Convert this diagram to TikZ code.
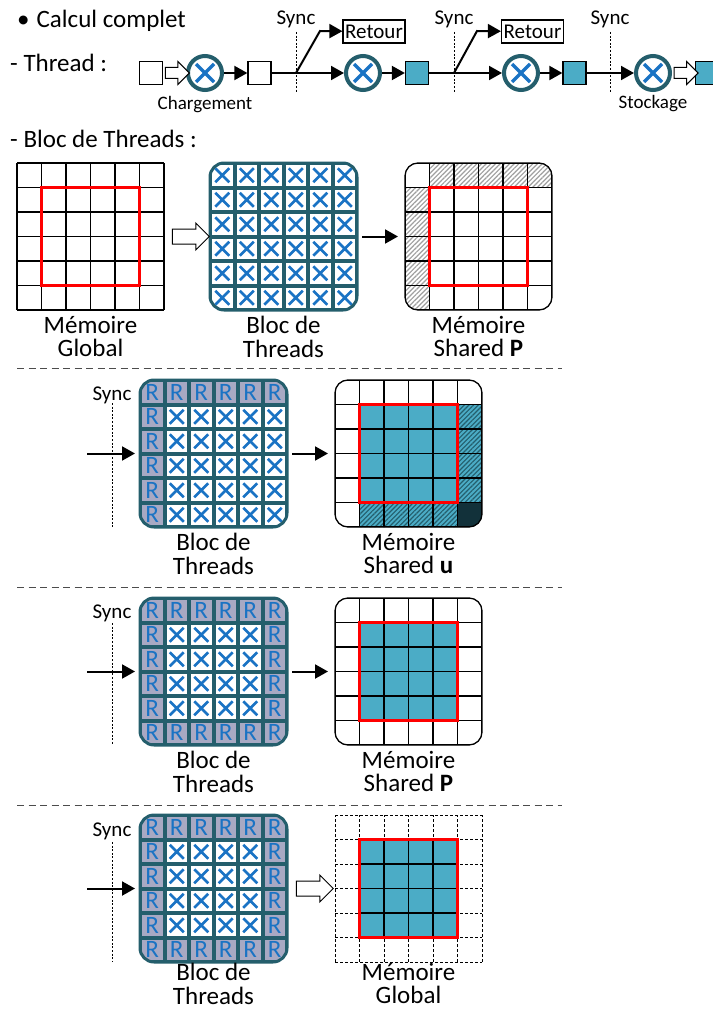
\documentclass[tikz,border=0pt]{standalone}
\usepackage{fontspec}
\setmainfont{Carlito}
\usetikzlibrary{shapes,arrows.meta,positioning,calc,patterns.meta}

\definecolor{tealdark}{HTML}{245E6C}
\definecolor{tealfill}{HTML}{4BACC6}
\definecolor{xblue}{HTML}{1A73C4}
\definecolor{rgray}{HTML}{A8A9C3}
\definecolor{darkcell}{HTML}{12313A}

\begin{document}
\begin{tikzpicture}[x=1pt, y=-1pt, node distance=1cm,
    txt/.style={inner sep=0pt, font=\fontsize{25}{22}\selectfont},
    small/.style={inner sep=0pt, font=\fontsize{21}{24}\selectfont},
    note/.style={inner sep=0pt, font=\fontsize{19}{22}\selectfont},
    sq/.style={rectangle, draw, line width=1.3pt, minimum size=23pt, inner sep=0pt},
    opnode/.style={circle, draw=tealdark, line width=4pt, fill=white, minimum size=34pt, inner sep=0pt,
        path picture={\draw[xblue, line width=3.4pt] (path picture bounding box.center) ++(-9,-9) -- ++(18,18)
            (path picture bounding box.center) ++(-9,9) -- ++(18,-18);}},
    arr/.style={-{Triangle[length=13pt,width=14pt]}, line width=2pt},
    hollow/.style={single arrow, draw, line width=1pt, fill=white, inner xsep=0pt, single arrow head indent=0pt},
    sync/.style={dash pattern=on 2pt off 1.6pt, line width=0.9pt},
    sepline/.style={dash pattern=on 7pt off 4.5pt, line width=1pt, black!70},
    gridbox/.style={rectangle, minimum size=147pt, inner sep=0pt, outer sep=0pt},
    gline/.style={line width=1.3pt},
    redbox/.style={draw=red, line width=3pt},
    xcell/.style={rectangle, fill=white, minimum size=20.5pt, inner sep=0pt,
        path picture={\draw[xblue, line width=2.6pt] (path picture bounding box.center) ++(-7,-7) -- ++(14,14)
            (path picture bounding box.center) ++(-7,7) -- ++(14,-14);}},
    rcell/.style={rectangle, fill=rgray, minimum size=20.5pt, inner sep=0pt, text=xblue,
        font=\fontsize{25}{25}\selectfont},
    hatchg/.style={pattern={Lines[angle=45,distance=3.3pt,line width=1.2pt]}, pattern color=gray!75},
    hatcht/.style={preaction={fill=tealfill}, pattern={Lines[angle=45,distance=3.3pt,line width=1.1pt]}, pattern color=tealdark},
    caption/.style={inner sep=0pt, font=\fontsize{25}{23.5}\selectfont, align=center, below=6pt of #1},
    lastcaption/.style={inner sep=0pt, font=\fontsize{25}{23.5}\selectfont, align=center, below=1pt of #1}
]
\path[use as bounding box, fill=white] (0,0) rectangle (712,1014);

% Thread
\node (titre) [txt, anchor=base west] at (17,28) {\textbullet\hspace{7pt}Calcul complet};
\node (thread) [txt, anchor=base west] at (10,72) {- Thread :};
\node (sq0) [sq] at (151,73) {};
\node (c1) [opnode] at (205,73) {};
\node (sq1) [sq] at (259.5,73) {};
\node (c2) [opnode] at (363,73) {};
\node (sq2) [sq, fill=tealfill] at (417,73) {};
\node (c3) [opnode] at (521,73) {};
\node (sq3) [sq, fill=tealfill] at (574.5,73) {};
\node (c4) [opnode] at (653,73) {};
\node (sq4) [sq, fill=tealfill] at (707,73) {};
\node (ret1) [small, draw, line width=1.2pt, minimum width=62pt, minimum height=23pt] at (374,31.5) {Retour};
\node (ret2) [small, draw, line width=1.2pt, minimum width=62pt, minimum height=23pt] at (532.5,31.5) {Retour};
\node (charg) [note, anchor=base] at (205,110) {Chargement};
\node (stock) [note, anchor=base] at (653,109) {Stockage};
\node (sy1) [small, anchor=base] at (296,25) {Sync};
\node (sy2) [small, anchor=base] at (454,25) {Sync};
\node (sy3) [small, anchor=base] at (610,25) {Sync};
\draw[sync] (296,32) -- (296,92);
\draw[sync] (454,32) -- (454,92);
\draw[sync] (610,32) -- (610,92);
\coordinate (br1) at (296,73);
\coordinate (br2) at (454,73);

\path (sq0) -- node[hollow, minimum height=24pt, inner ysep=5pt, single arrow head extend=6pt] (ha0) {} (c1);
\draw[arr] (c1) -- (sq1);
\draw[arr] (sq1) -- (c2);
\draw[arr] (br1) -- (320,31) -- (ret1);
\draw[arr] (c2) -- (sq2);
\draw[arr] (sq2) -- (c3);
\draw[arr] (br2) -- (477,31) -- (ret2);
\draw[arr] (c3) -- (sq3);
\draw[arr] (sq3) -- (c4);
\path (c4) -- node[hollow, minimum height=24pt, inner ysep=5pt, single arrow head extend=6pt] (ha5) {} (sq4);

% Bloc de Threads : chargement
\node (blocT) [txt, anchor=base west] at (10,147) {- Bloc de Threads :};
\node (memG) [gridbox, anchor=north west] at (17,163) {};
\draw[gline, shift={(memG.north west)}] (0,0) grid[step=24.5pt] (147,147);
\draw[redbox] ($(memG.north west)+(24.5,24.5)$) rectangle ($(memG.south east)+(-24.5,-24.5)$);
\node (lG) [caption=memG] {Mémoire\\Global};

\node (bloc1) [gridbox, right=46pt of memG] {};
\begin{scope}
  \clip[rounded corners=14pt] (bloc1.north west) rectangle (bloc1.south east);
  \fill[tealdark] (bloc1.north west) rectangle (bloc1.south east);
  \foreach \i in {0,...,5} \foreach \j in {0,...,5}
    \node (b1-\i-\j) [xcell] at ($(bloc1.north west)+(\i*24.5+12.25,\j*24.5+12.25)$) {};
\end{scope}
\draw[tealdark, line width=3pt, rounded corners=14pt] (bloc1.north west) rectangle (bloc1.south east);
\node (lb1) [caption=bloc1] {Bloc de\\Threads};
\path (memG) -- node[hollow, minimum height=37pt, inner ysep=7pt, single arrow head extend=6pt] (ha1) {} (bloc1);

\node (memP1) [gridbox, right=48pt of bloc1] {};
\begin{scope}
  \clip[rounded corners=13pt] (memP1.north west) rectangle (memP1.south east);
  \foreach \k in {1,...,5} {
    \path[hatchg] ($(memP1.north west)+(\k*24.5,0)$) rectangle ++(24.5,24.5);
    \path[hatchg] ($(memP1.north west)+(0,\k*24.5)$) rectangle ++(24.5,24.5);
  }
  \draw[gline, shift={(memP1.north west)}] (0,0) grid[step=24.5pt] (147,147);
\end{scope}
\draw[gline, rounded corners=13pt] (memP1.north west) rectangle (memP1.south east);
\draw[redbox] ($(memP1.north west)+(24.5,24.5)$) rectangle ($(memP1.south east)+(-24.5,-24.5)$);
\node (lP1) [caption=memP1] {Mémoire\\Shared \textbf{P}};
\draw[arr, shorten <=5pt, shorten >=7pt] (bloc1) -- (memP1);

\draw[sepline] (17,368) -- (562,368);

% calcul de u
\node (bloc2) [gridbox, anchor=north west] at (140,380) {};
\begin{scope}
  \clip[rounded corners=14pt] (bloc2.north west) rectangle (bloc2.south east);
  \fill[tealdark] (bloc2.north west) rectangle (bloc2.south east);
  \foreach \i in {0,...,5} \foreach \j in {0,...,5}
    \node (b2-\i-\j) [xcell] at ($(bloc2.north west)+(\i*24.5+12.25,\j*24.5+12.25)$) {};
  \foreach \k in {0,...,5} {
    \node (r2t-\k) [rcell] at ($(bloc2.north west)+(\k*24.5+12.25,12.25)$) {R};
    \node (r2l-\k) [rcell] at ($(bloc2.north west)+(12.25,\k*24.5+12.25)$) {R};
  }
\end{scope}
\draw[tealdark, line width=3pt, rounded corners=14pt] (bloc2.north west) rectangle (bloc2.south east);
\node (lb2) [caption=bloc2] {Bloc de\\Threads};
\node (sy4) [small, anchor=base] at (112,400) {Sync};
\draw[sync] (112,403) -- (112,527);
\coordinate (in2) at ($(bloc2.west)+(-53,0)$);
\draw[arr, shorten >=5pt] (in2) -- (bloc2);

\node (memU) [gridbox, right=48pt of bloc2] {};
\begin{scope}
  \clip[rounded corners=13pt] (memU.north west) rectangle (memU.south east);
  \fill[tealfill] ($(memU.north west)+(24.5,24.5)$) rectangle ++(98,98);
  \foreach \k in {1,...,4} {
    \path[hatcht] ($(memU.north west)+(122.5,\k*24.5)$) rectangle ++(24.5,24.5);
    \path[hatcht] ($(memU.north west)+(\k*24.5,122.5)$) rectangle ++(24.5,24.5);
  }
  \fill[darkcell] ($(memU.north west)+(122.5,122.5)$) rectangle ++(24.5,24.5);
  \draw[gline, shift={(memU.north west)}] (0,0) grid[step=24.5pt] (147,147);
\end{scope}
\draw[gline, rounded corners=13pt] (memU.north west) rectangle (memU.south east);
\draw[redbox] ($(memU.north west)+(24.5,24.5)$) rectangle ($(memU.south east)+(-24.5,-24.5)$);
\node (lU) [caption=memU] {Mémoire\\Shared \textbf{u}};
\draw[arr, shorten <=5pt, shorten >=7pt] (bloc2) -- (memU);

\draw[sepline] (17,587) -- (562,587);

% calcul de P
\node (bloc3) [gridbox, anchor=north west] at (140,598) {};
\begin{scope}
  \clip[rounded corners=14pt] (bloc3.north west) rectangle (bloc3.south east);
  \fill[tealdark] (bloc3.north west) rectangle (bloc3.south east);
  \foreach \i in {0,...,5} \foreach \j in {0,...,5}
    \node (b3-\i-\j) [xcell] at ($(bloc3.north west)+(\i*24.5+12.25,\j*24.5+12.25)$) {};
  \foreach \k in {0,...,5} {
    \node (r3t-\k) [rcell] at ($(bloc3.north west)+(\k*24.5+12.25,12.25)$) {R};
    \node (r3l-\k) [rcell] at ($(bloc3.north west)+(12.25,\k*24.5+12.25)$) {R};
    \node (r3b-\k) [rcell] at ($(bloc3.north west)+(\k*24.5+12.25,134.75)$) {R};
    \node (r3r-\k) [rcell] at ($(bloc3.north west)+(134.75,\k*24.5+12.25)$) {R};
  }
\end{scope}
\draw[tealdark, line width=3pt, rounded corners=14pt] (bloc3.north west) rectangle (bloc3.south east);
\node (lb3) [caption=bloc3] {Bloc de\\Threads};
\node (sy5) [small, anchor=base] at (112,618) {Sync};
\draw[sync] (112,623) -- (112,745);
\coordinate (in3) at ($(bloc3.west)+(-53,0)$);
\draw[arr, shorten >=5pt] (in3) -- (bloc3);

\node (memP2) [gridbox, right=48pt of bloc3] {};
\begin{scope}
  \clip[rounded corners=13pt] (memP2.north west) rectangle (memP2.south east);
  \fill[tealfill] ($(memP2.north west)+(24.5,24.5)$) rectangle ++(98,98);
  \draw[gline, shift={(memP2.north west)}] (0,0) grid[step=24.5pt] (147,147);
\end{scope}
\draw[gline, rounded corners=13pt] (memP2.north west) rectangle (memP2.south east);
\draw[redbox] ($(memP2.north west)+(24.5,24.5)$) rectangle ($(memP2.south east)+(-24.5,-24.5)$);
\node (lP2) [caption=memP2] {Mémoire\\Shared \textbf{P}};
\draw[arr, shorten <=5pt, shorten >=7pt] (bloc3) -- (memP2);

\draw[sepline] (17,805) -- (562,805);

% stockage
\node (bloc4) [gridbox, anchor=north west] at (140,815) {};
\begin{scope}
  \clip[rounded corners=14pt] (bloc4.north west) rectangle (bloc4.south east);
  \fill[tealdark] (bloc4.north west) rectangle (bloc4.south east);
  \foreach \i in {0,...,5} \foreach \j in {0,...,5}
    \node (b4-\i-\j) [xcell] at ($(bloc4.north west)+(\i*24.5+12.25,\j*24.5+12.25)$) {};
  \foreach \k in {0,...,5} {
    \node (r4t-\k) [rcell] at ($(bloc4.north west)+(\k*24.5+12.25,12.25)$) {R};
    \node (r4l-\k) [rcell] at ($(bloc4.north west)+(12.25,\k*24.5+12.25)$) {R};
    \node (r4b-\k) [rcell] at ($(bloc4.north west)+(\k*24.5+12.25,134.75)$) {R};
    \node (r4r-\k) [rcell] at ($(bloc4.north west)+(134.75,\k*24.5+12.25)$) {R};
  }
\end{scope}
\draw[tealdark, line width=3pt, rounded corners=14pt] (bloc4.north west) rectangle (bloc4.south east);
\node (lb4) [lastcaption=bloc4] {Bloc de\\Threads};
\node (sy6) [small, anchor=base] at (112,836) {Sync};
\draw[sync] (112,842) -- (112,962);
\coordinate (in4) at ($(bloc4.west)+(-53,0)$);
\draw[arr, shorten >=5pt] (in4) -- (bloc4);

\node (memG2) [gridbox, right=48pt of bloc4] {};
\draw[dash pattern=on 3pt off 2pt, line width=0.9pt, shift={(memG2.north west)}] (0,0) grid[step=24.5pt] (147,147);
\fill[tealfill] ($(memG2.north west)+(24.5,24.5)$) rectangle ++(98,98);
\draw[gline, shift={($(memG2.north west)+(24.5,24.5)$)}] (0,0) grid[step=24.5pt] (98,98);
\draw[redbox] ($(memG2.north west)+(24.5,24.5)$) rectangle ($(memG2.south east)+(-24.5,-24.5)$);
\node (lG2) [lastcaption=memG2] {Mémoire\\Global};
\path (bloc4) -- node[hollow, minimum height=37pt, inner ysep=7pt, single arrow head extend=6pt] (ha4) {} (memG2);
\end{tikzpicture}
\end{document}
